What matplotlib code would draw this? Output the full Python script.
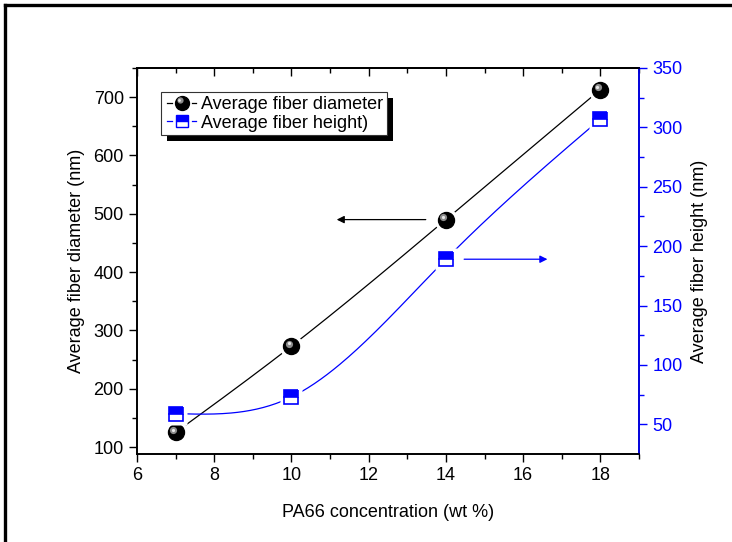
import numpy as np
import matplotlib
matplotlib.use("Agg")
import matplotlib.pyplot as plt
from matplotlib.lines import Line2D
from matplotlib.legend_handler import HandlerBase
from matplotlib.patches import Rectangle
from matplotlib.transforms import offset_copy, IdentityTransform

plt.rcParams["font.family"] = ["Liberation Sans", "DejaVu Sans"]
plt.rcParams["font.size"] = 13

conc = [7, 10, 14, 18]
diameter = [125, 273, 490, 713]
height = [59, 73, 189, 307]

BLUE = "#0000ff"


def natural_spline(x, y, n=200):
    # plain natural cubic spline, enough for a smooth connecting line
    x = np.asarray(x, float)
    y = np.asarray(y, float)
    h = np.diff(x)
    m = len(x)
    A = np.zeros((m, m))
    b = np.zeros(m)
    A[0, 0] = A[-1, -1] = 1.0
    for i in range(1, m - 1):
        A[i, i - 1] = h[i - 1]
        A[i, i] = 2 * (h[i - 1] + h[i])
        A[i, i + 1] = h[i]
        b[i] = 6 * ((y[i + 1] - y[i]) / h[i] - (y[i] - y[i - 1]) / h[i - 1])
    M = np.linalg.solve(A, b)
    xs = np.linspace(x[0], x[-1], n)
    idx = np.clip(np.searchsorted(x, xs) - 1, 0, m - 2)
    x0, x1 = x[idx], x[idx + 1]
    hh = x1 - x0
    t0, t1 = x1 - xs, xs - x0
    ys = (M[idx] * t0 ** 3 + M[idx + 1] * t1 ** 3) / (6 * hh) \
        + (y[idx] / hh - M[idx] * hh / 6) * t0 \
        + (y[idx + 1] / hh - M[idx + 1] * hh / 6) * t1
    return xs, ys


def draw_spheres(ax, x, y, ms):
    fig = ax.figure
    ax.plot(x, y, "o", ms=ms, color="black", mec="black", zorder=4)
    hl = offset_copy(ax.transData, fig=fig, x=-1.8, y=1.8, units="points")
    ax.plot(x, y, "o", ms=ms * 0.45, color="#8c8c8c", mec="none", zorder=5, transform=hl)
    hl2 = offset_copy(ax.transData, fig=fig, x=-2.1, y=2.1, units="points")
    ax.plot(x, y, "o", ms=ms * 0.2, color="#e8e8e8", mec="none", zorder=6, transform=hl2)


class SphereHandler(HandlerBase):
    def create_artists(self, legend, orig, xd, yd, w, h, fs, trans):
        cx, cy = w / 2 - xd, h / 2 - yd
        r = 4.8
        arts = [
            Line2D([-xd + 2, cx - r - 2.5], [cy, cy], color="black", lw=0.9),
            Line2D([cx + r + 2.5, w - xd - 2], [cy, cy], color="black", lw=0.9),
            Line2D([cx], [cy], marker="o", ms=10, color="black"),
            Line2D([cx - 1.6], [cy + 1.6], marker="o", ms=4.5, color="#8c8c8c", mec="none"),
            Line2D([cx - 1.9], [cy + 1.9], marker="o", ms=2, color="#e8e8e8", mec="none"),
        ]
        for a in arts:
            a.set_transform(trans)
        return arts


class SquareHandler(HandlerBase):
    def create_artists(self, legend, orig, xd, yd, w, h, fs, trans):
        cx, cy = w / 2 - xd, h / 2 - yd
        r = 4.8
        arts = [
            Line2D([-xd + 2, cx - r - 2.5], [cy, cy], color=BLUE, lw=0.9),
            Line2D([cx + r + 2.5, w - xd - 2], [cy, cy], color=BLUE, lw=0.9),
            Line2D([cx], [cy], marker="s", ms=9, color=BLUE, mec=BLUE, mew=1.0,
                   fillstyle="top", markerfacecoloralt="white"),
        ]
        for a in arts:
            a.set_transform(trans)
        return arts


fig = plt.figure(figsize=(7.32, 5.42), dpi=100)
ax = fig.add_axes([137 / 732, 1 - 454 / 542, 502 / 732, 386 / 542])
ax2 = ax.twinx()

# diameter series (left axis)
xs, ys = natural_spline(conc, diameter)
ax.plot(xs, ys, color="black", lw=0.9, zorder=2)
ax.plot(conc, diameter, "o", ms=17, color="white", mec="none", zorder=3)
draw_spheres(ax, conc, diameter, 11.5)

# height series (right axis)
xs2, ys2 = natural_spline(conc, height)
ax2.plot(xs2, ys2, color=BLUE, lw=0.9, zorder=2)
ax2.plot(conc, height, "s", ms=16, color="white", mec="none", zorder=3)
ax2.plot(conc, height, "s", ms=10, color=BLUE, mec=BLUE, mew=1.2,
         fillstyle="top", markerfacecoloralt="white", zorder=4)

ax.set_xlim(6, 19)
ax.set_ylim(88, 750)
ax2.set_ylim(25, 350)

ax.set_xticks(np.arange(6, 19, 2))
ax.set_xticks(np.arange(7, 20, 2), minor=True)
ax.set_yticks(np.arange(100, 701, 100))
ax.set_yticks(np.arange(150, 751, 100), minor=True)
ax2.set_yticks(np.arange(50, 351, 50))
ax2.set_yticks(np.arange(75, 351, 50), minor=True)

ax.tick_params(axis="both", which="major", direction="out", length=6, width=1, labelsize=13)
ax.tick_params(axis="both", which="minor", direction="out", length=3.5, width=1)
ax.tick_params(axis="x", top=False, which="both")
ax.tick_params(axis="y", right=False, which="both")
ax2.tick_params(axis="y", which="major", direction="out", length=6, width=1,
                colors=BLUE, labelsize=13, labelcolor=BLUE)
ax2.tick_params(axis="y", which="minor", direction="out", length=3.5, width=1, colors=BLUE)

# unlabeled inward ticks along the top edge
top = ax.secondary_xaxis("top")
top.set_xticks(np.arange(6, 19, 2))
top.set_xticks(np.arange(7, 20, 2), minor=True)
top.tick_params(which="major", direction="in", length=6, width=1, labeltop=False)
top.tick_params(which="minor", direction="in", length=3.5, width=1)
top.spines["top"].set_linewidth(1.2)

for sp in ax.spines.values():
    sp.set_linewidth(1.2)
for sp in ax2.spines.values():
    sp.set_linewidth(1.2)
ax2.spines["right"].set_color(BLUE)

ax.set_xlabel("PA66 concentration (wt %)", fontsize=13, labelpad=14)
ax.set_ylabel("Average fiber diameter (nm)", fontsize=13, labelpad=6)
ax2.set_ylabel("Average fiber height (nm)", fontsize=13, labelpad=6)

# which-axis arrows
ax.annotate("", xy=(11.1, 490), xytext=(13.55, 490),
            arrowprops=dict(arrowstyle="-|>", color="black", lw=0.9, mutation_scale=11))
ax2.annotate("", xy=(16.7, 189), xytext=(14.4, 189),
             arrowprops=dict(arrowstyle="-|>", color=BLUE, lw=0.9, mutation_scale=11))

h1 = Line2D([], [], color="black")
h2 = Line2D([], [], color=BLUE)
leg = ax2.legend([h1, h2], ["Average fiber diameter", "Average fiber height)"],
                 handler_map={h1: SphereHandler(), h2: SquareHandler()},
                 loc="upper left", bbox_to_anchor=(0.048, 0.937), fontsize=13,
                 frameon=True, fancybox=False, framealpha=1, edgecolor="#333333",
                 handlelength=1.9, handletextpad=0.1, labelspacing=0.1,
                 borderpad=0.2, borderaxespad=0)
leg.get_frame().set_linewidth(0.8)
leg.set_zorder(10)

# hard black drop shadow behind legend box
fig.canvas.draw()
bb = leg.get_frame().get_window_extent()
shadow = Rectangle((bb.x0 + 6, bb.y0 - 6), bb.width, bb.height, transform=IdentityTransform(),
                   facecolor="black", edgecolor="none", zorder=9)
ax2.add_artist(shadow)

# page frame on top and left edges
fig.add_artist(Line2D([4.5 / 732, 4.5 / 732], [0, 1 - 4.5 / 542], color="black", lw=2.4,
                      transform=fig.transFigure, solid_capstyle="projecting"))
fig.add_artist(Line2D([4.5 / 732, 1], [1 - 4.5 / 542, 1 - 4.5 / 542], color="black", lw=2.4,
                      transform=fig.transFigure, solid_capstyle="projecting"))

fig.savefig("out.png", dpi=100)
